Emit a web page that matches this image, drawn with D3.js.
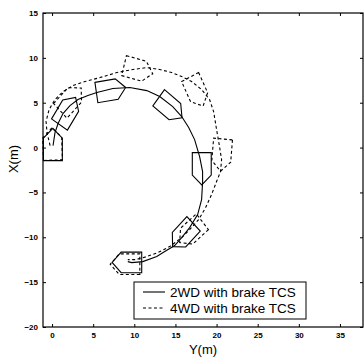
<!DOCTYPE html>
<html>
<head>
<meta charset="utf-8">
<script src="https://cdn.jsdelivr.net/npm/d3@7"></script>
<style>
  html, body { margin: 0; padding: 0; background: #fff; }
  svg { display: block; }
</style>
</head>
<body>
<svg id="chart" width="364" height="359"></svg>
<script>
// Vehicle CG trajectories, lateral position Y (m) and longitudinal X (m)
const solidY = [0.12, 0.36, 0.73, 1.33, 2.18, 3.15, 4.36, 5.45, 7.39, 9.45, 11.52, 13.09, 14.67, 15.76, 16.61, 17.33, 17.94, 18.30, 18.30, 18.18, 17.70, 16.73, 15.76, 14.91, 13.70, 12.73, 11.03, 9.70, 9.21];
const solidX = [0.22, 1.67, 2.68, 3.79, 4.68, 5.35, 5.80, 6.13, 6.58, 6.69, 6.35, 5.69, 4.57, 3.46, 2.23, 0.89, -1.00, -2.68, -3.90, -5.80, -7.47, -8.92, -10.03, -10.92, -11.59, -12.15, -12.71, -12.82, -12.71];

const dashedY = [-0.24, -0.61, -0.73, -0.36, 0.36, 1.33, 2.55, 4.00, 5.82, 7.88, 9.82, 11.52, 13.09, 14.55, 15.76, 16.97, 18.18, 19.15, 19.64, 20.00, 20.36, 20.61, 20.48, 20.00, 19.39, 18.67, 17.82, 16.73, 15.76, 14.30, 12.85, 11.52, 10.18, 9.21];
const dashedX = [0.22, 1.67, 2.90, 4.24, 5.35, 6.24, 6.91, 7.36, 7.80, 8.36, 8.70, 8.92, 8.70, 8.36, 7.92, 7.36, 6.47, 5.35, 4.01, 2.01, 0.11, -1.34, -2.68, -3.79, -5.24, -6.69, -8.03, -9.14, -10.03, -11.04, -11.71, -12.15, -12.49, -12.49];

// Vehicle snapshots along each run: CG position and heading (deg from +Y axis)
const solidCarY = [0.10, 1.83, 7.07, 14.30, 18.20, 16.00, 9.20];
const solidCarX = [0.25, 4.00, 6.40, 4.50, -2.26, -9.70, -12.80];
const solidCarHeading = [90, 57, 9, -38, -90, -135, 180];

const dashedCarY = [0.05, 2.20, 10.40, 17.53, 20.64, 16.97, 8.97];
const dashedCarX = [0.30, 5.30, 8.71, 6.33, -0.74, -9.36, -13.00];
const dashedCarHeading = [92, 45, -14.5, -64, -95, -140, 180];

const seriesNames = ["2WD with brake TCS", "4WD with brake TCS"];
const xTicks = [0, 5, 10, 15, 20, 25, 30, 35];
const yTicks = [-20, -15, -10, -5, 0, 5, 10, 15];

// Vehicle outline in body frame (m): rear corners, front shoulders, nose
const carOutline = [[-1.7, 1.15], [0.8, 1.15], [1.9, 0], [0.8, -1.15], [-1.7, -1.15]];

const svg = d3.select("#chart");
const plotL = 43, plotR = 363, plotT = 13, plotB = 327;

const x = d3.scaleLinear().domain([-1.1, 37.8]).range([plotL, plotR]);
const y = d3.scaleLinear().domain([-20, 15]).range([plotB, plotT]);

const line = d3.line().x(d => x(d[0])).y(d => y(d[1]));

function carPath(cy, cx, hdeg) {
  const h = hdeg * Math.PI / 180;
  const pts = carOutline.map(([s, t]) => [
    cy + s * Math.cos(h) - t * Math.sin(h),
    cx + s * Math.sin(h) + t * Math.cos(h)
  ]);
  return line(pts) + "Z";
}

const plot = svg.append("g");

// trajectories
plot.append("path")
  .attr("d", line(solidY.map((v, i) => [v, solidX[i]])))
  .attr("fill", "none").attr("stroke", "#000").attr("stroke-width", 1.1);
plot.append("path")
  .attr("d", line(dashedY.map((v, i) => [v, dashedX[i]])))
  .attr("fill", "none").attr("stroke", "#000").attr("stroke-width", 1.1)
  .attr("stroke-dasharray", "3,2.5");

// vehicle outlines
plot.selectAll("path.car-solid")
  .data(solidCarY.map((v, i) => [v, solidCarX[i], solidCarHeading[i]]))
  .join("path").attr("class", "car-solid")
  .attr("d", d => carPath(d[0], d[1], d[2]))
  .attr("fill", "none").attr("stroke", "#000").attr("stroke-width", 1.1);
plot.selectAll("path.car-dashed")
  .data(dashedCarY.map((v, i) => [v, dashedCarX[i], dashedCarHeading[i]]))
  .join("path").attr("class", "car-dashed")
  .attr("d", d => carPath(d[0], d[1], d[2]))
  .attr("fill", "none").attr("stroke", "#000").attr("stroke-width", 1.1)
  .attr("stroke-dasharray", "3,2.5");

// axes box with inward ticks on all sides
const tickFont = "bold 8px 'Liberation Sans', Arial, sans-serif";
const axB = svg.append("g").attr("transform", `translate(0,${plotB})`)
  .call(d3.axisBottom(x).tickValues(xTicks).tickSize(-3).tickPadding(5).tickFormat(d3.format("d")));
const axT = svg.append("g").attr("transform", `translate(0,${plotT})`)
  .call(d3.axisTop(x).tickValues(xTicks).tickSize(-3).tickFormat(""));
const axL = svg.append("g").attr("transform", `translate(${plotL},0)`)
  .call(d3.axisLeft(y).tickValues(yTicks).tickSize(-3).tickPadding(5).tickFormat(d3.format("d")));
const axR = svg.append("g").attr("transform", `translate(${plotR},0)`)
  .call(d3.axisRight(y).tickValues(yTicks).tickSize(-3).tickFormat(""));
[axB, axT, axL, axR].forEach(a => {
  a.select(".domain").remove();
  a.selectAll(".tick line").attr("stroke", "#000");
  a.selectAll(".tick text").style("font", tickFont).attr("fill", "#000");
});
svg.append("rect")
  .attr("x", plotL).attr("y", plotT).attr("width", plotR - plotL).attr("height", plotB - plotT)
  .attr("fill", "none").attr("stroke", "#000").attr("stroke-width", 1.2);

// axis titles
svg.append("text")
  .attr("x", 203).attr("y", 354)
  .attr("text-anchor", "middle")
  .style("font", "13px 'Liberation Sans', Arial, sans-serif")
  .text("Y(m)");
svg.append("text")
  .attr("transform", "translate(18,159) rotate(-90)")
  .attr("text-anchor", "middle")
  .style("font", "13px 'Liberation Sans', Arial, sans-serif")
  .text("X(m)");

// legend
const lg = svg.append("g");
lg.append("rect").attr("x", 134).attr("y", 282).attr("width", 172).attr("height", 37)
  .attr("fill", "#fff").attr("stroke", "#000").attr("stroke-width", 1);
seriesNames.forEach((name, i) => {
  const yy = 292 + i * 16;
  lg.append("line").attr("x1", 143).attr("x2", 165).attr("y1", yy).attr("y2", yy)
    .attr("stroke", "#000").attr("stroke-width", 1.1)
    .attr("stroke-dasharray", i === 0 ? null : "3,2.5");
  lg.append("text").attr("x", 170).attr("y", yy + 5)
    .style("font", "13.5px 'Liberation Sans', Arial, sans-serif")
    .attr("fill", "#000")
    .text(name);
});
</script>
</body>
</html>
